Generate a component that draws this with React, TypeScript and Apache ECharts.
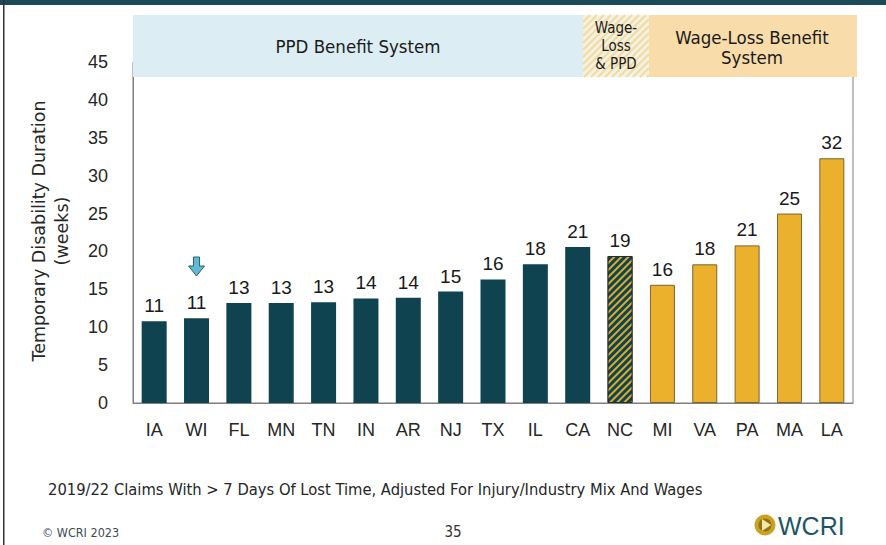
import React, { useEffect, useRef } from "react";
import * as echarts from "echarts";

const categories = ["IA", "WI", "FL", "MN", "TN", "IN", "AR", "NJ", "TX", "IL", "CA", "NC", "MI", "VA", "PA", "MA", "LA"];
const durations = [10.8, 11.2, 13.2, 13.2, 13.3, 13.8, 13.9, 14.7, 16.3, 18.3, 20.6, 19.4, 15.6, 18.3, 20.8, 25.0, 32.3];
const systems = ["PPD", "PPD", "PPD", "PPD", "PPD", "PPD", "PPD", "PPD", "PPD", "PPD", "PPD", "Mixed", "WageLoss", "WageLoss", "WageLoss", "WageLoss", "WageLoss"];
const yMin = 0;
const yMax = 45;
const yInterval = 5;
const headerLabels = ["PPD Benefit System", "Wage-\nLoss\n& PPD", "Wage-Loss Benefit\nSystem"];
const yAxisTitle = ["Temporary Disability Duration", "(weeks)"];
const footnote = "2019/22 Claims With > 7 Days Of Lost Time, Adjusted For Injury/Industry Mix And Wages";
const copyright = "© WCRI 2023";
const pageNumber = "35";

const TEAL = "#0f4350";
const GOLD = "#ebb02c";
const NARROW = "'Liberation Sans Narrow', 'DejaVu Sans Condensed', 'Liberation Sans', sans-serif";
const SANS = "'Liberation Sans', Arial, sans-serif";
const WIDE = "'DejaVu Sans', 'Liberation Sans', sans-serif";

function hatchLines(x0: number, y0: number, x1: number, y1: number, step: number, color: string) {
  const out: any[] = [];
  for (let c = x0 + y0; c <= x1 + y1; c += step) {
    const xa = Math.max(x0, c - y1);
    const xb = Math.min(x1, c - y0);
    if (xb <= xa) continue;
    out.push({
      type: "line",
      z: 101,
      silent: true,
      shape: { x1: xa, y1: c - xa, x2: xb, y2: c - xb },
      style: { stroke: color, lineWidth: 2 },
    });
  }
  return out;
}

export default function App() {
  const ref = useRef<HTMLDivElement>(null);
  useEffect(() => {
    if (!ref.current) return;
    const chart = echarts.init(ref.current, null, { renderer: "svg" });

    const data = durations.map((v, i) => {
      const s = systems[i];
      if (s === "PPD") return { value: v, itemStyle: { color: TEAL } };
      if (s === "WageLoss") return { value: v, itemStyle: { color: GOLD, borderColor: "#7a6630", borderWidth: 1 } };
      return {
        value: v,
        itemStyle: {
          color: TEAL,
          borderColor: "#2b2b2b",
          borderWidth: 1,
          decal: {
            symbol: "rect",
            symbolSize: 1,
            color: "#d9ab2c",
            dashArrayX: [1, 0],
            dashArrayY: [2, 3],
            rotation: -Math.PI / 4,
          },
        },
      };
    });

    const hdrTop = 15;
    const hdrBot = 77;
    const graphic: any[] = [
      { type: "rect", z: 100, silent: true, shape: { x: 0, y: 0, width: 886, height: 5 }, style: { fill: "#1b4b59" } },
      { type: "rect", z: 100, silent: true, shape: { x: 3, y: 0, width: 1.5, height: 545 }, style: { fill: "#333" } },
      { type: "rect", z: 100, silent: true, shape: { x: 133, y: hdrTop, width: 450, height: hdrBot - hdrTop }, style: { fill: "#dcedf4" } },
      { type: "rect", z: 100, silent: true, shape: { x: 583, y: hdrTop, width: 66, height: hdrBot - hdrTop }, style: { fill: "#f4f0e3" } },
      ...hatchLines(583, hdrTop, 649, hdrBot, 7, "#f1dca0"),
      { type: "rect", z: 100, silent: true, shape: { x: 649, y: hdrTop, width: 208, height: hdrBot - hdrTop }, style: { fill: "#f8dcaa" } },
      {
        type: "text", z: 102, silent: true, x: 358, y: 46,
        style: { text: headerLabels[0], font: `18.5px ${NARROW}`, fill: "#1a1a1a", align: "center", verticalAlign: "middle" },
      },
      {
        type: "text", z: 102, silent: true, x: 616, y: 46,
        style: { text: headerLabels[1], font: `15px ${NARROW}`, fill: "#1a1a1a", align: "center", verticalAlign: "middle", lineHeight: 18 },
      },
      {
        type: "text", z: 102, silent: true, x: 752, y: 47,
        style: { text: headerLabels[2], font: `18.5px ${NARROW}`, fill: "#1a1a1a", align: "center", verticalAlign: "middle", lineHeight: 20 },
      },
      {
        type: "text", z: 102, silent: true, x: 39, y: 231, rotation: Math.PI / 2,
        style: { text: yAxisTitle[0], font: `17.5px ${WIDE}`, fill: "#262626", align: "center", verticalAlign: "middle" },
      },
      {
        type: "text", z: 102, silent: true, x: 62, y: 231, rotation: Math.PI / 2,
        style: { text: yAxisTitle[1], font: `17.5px ${WIDE}`, fill: "#262626", align: "center", verticalAlign: "middle" },
      },
      {
        type: "text", z: 102, silent: true, x: 48, y: 489,
        style: { text: footnote, font: `16.4px ${NARROW}`, fill: "#262626", align: "left", verticalAlign: "middle" },
      },
      {
        type: "text", z: 102, silent: true, x: 42, y: 532,
        style: { text: copyright, font: `12.5px ${NARROW}`, fill: "#3d4d55", align: "left", verticalAlign: "middle" },
      },
      {
        type: "text", z: 102, silent: true, x: 453, y: 532,
        style: { text: pageNumber, font: `15px ${NARROW}`, fill: "#333", align: "center", verticalAlign: "middle" },
      },
      { type: "circle", z: 102, silent: true, shape: { cx: 765, cy: 525, r: 10.5 }, style: { fill: "#c9a326" } },
      { type: "circle", z: 102, silent: true, shape: { cx: 765, cy: 525, r: 6.5 }, style: { fill: "#8f7316" } },
      { type: "polygon", z: 103, silent: true, shape: { points: [[762, 519], [762, 531], [771, 525]] }, style: { fill: "#f4e7a8" } },
      {
        type: "text", z: 102, silent: true, x: 778, y: 526,
        style: { text: "WCRI", font: `500 25px ${SANS}`, fill: "#1d5564", align: "left", verticalAlign: "middle" },
      },
    ];

    chart.setOption({
      animation: false,
      backgroundColor: "#ffffff",
      grid: { left: 133, right: 33, top: 62, bottom: 142, show: true, borderColor: "#7f7f7f", borderWidth: 1 },
      xAxis: {
        type: "category",
        data: categories,
        axisLine: { show: true, lineStyle: { color: "#7f7f7f", width: 1 } },
        axisTick: { show: false },
        axisLabel: { fontFamily: SANS, fontSize: 18, color: "#262626", margin: 18 },
      },
      yAxis: {
        type: "value",
        min: yMin,
        max: yMax,
        interval: yInterval,
        axisLine: { show: true, lineStyle: { color: "#7f7f7f", width: 1 } },
        axisTick: { show: false },
        splitLine: { show: false },
        axisLabel: { fontFamily: SANS, fontSize: 18, color: "#262626", margin: 25 },
      },
      series: [
        {
          type: "bar",
          data,
          barWidth: 25,
          label: {
            show: true,
            position: "top",
            distance: 6,
            fontFamily: SANS,
            fontSize: 19,
            color: "#1a1a1a",
            formatter: (p: any) => String(Math.round(p.value)),
          },
        },
      ],
      graphic,
    });

    const wiX = chart.convertToPixel({ xAxisIndex: 0 }, "WI") as number;
    const ax = wiX;
    chart.setOption({
      graphic: [
        ...graphic,
        {
          type: "polygon", z: 103, silent: true,
          shape: {
            points: [[ax - 3, 257], [ax + 3, 257], [ax + 3, 266], [ax + 8, 266], [ax, 276], [ax - 8, 266], [ax - 3, 266]],
          },
          style: { fill: "#63b8d4", stroke: "#2d6175", lineWidth: 1 },
        },
      ],
    });

    return () => chart.dispose();
  }, []);
  return <div ref={ref} style={{ position: "fixed", left: 0, top: 0, width: 886, height: 545 }} />;
}
